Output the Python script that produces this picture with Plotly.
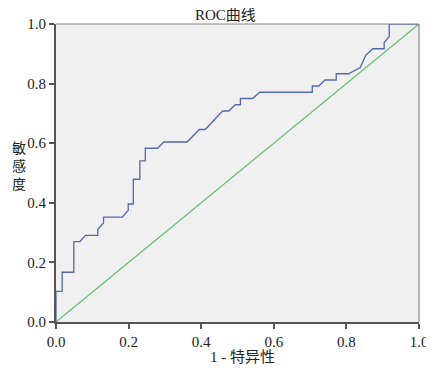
import plotly.graph_objects as go

# ROC curve points (1 - specificity, sensitivity)
fpr = [0, 0, 0.017, 0.017, 0.049, 0.049, 0.066, 0.081, 0.115, 0.115, 0.131, 0.131,
       0.183, 0.199, 0.199, 0.213, 0.213, 0.231, 0.231, 0.246, 0.246, 0.28, 0.297,
       0.361, 0.395, 0.411, 0.459, 0.476, 0.494, 0.508, 0.508, 0.542, 0.561, 0.706,
       0.706, 0.724, 0.741, 0.772, 0.772, 0.806, 0.838, 0.854, 0.873, 0.904, 0.904,
       0.918, 0.918, 1.0]
tpr = [0, 0.103, 0.103, 0.167, 0.167, 0.27, 0.27, 0.291, 0.291, 0.311, 0.332, 0.352,
       0.352, 0.375, 0.396, 0.396, 0.479, 0.479, 0.541, 0.541, 0.583, 0.583, 0.604,
       0.604, 0.646, 0.646, 0.708, 0.708, 0.729, 0.729, 0.75, 0.75, 0.771, 0.771,
       0.792, 0.792, 0.812, 0.812, 0.833, 0.833, 0.854, 0.896, 0.917, 0.917, 0.938,
       0.958, 1.0, 1.0]
ref_x = [0, 1]
ref_y = [0, 1]
tick_vals = [0.0, 0.2, 0.4, 0.6, 0.8, 1.0]
tick_text = ["0.0", "0.2", "0.4", "0.6", "0.8", "1.0"]
y_title = "敏<br>感<br>度"

serif = "Liberation Serif, Times New Roman, Noto Sans CJK SC, serif"
txt_font = dict(family=serif, size=15, color="#222222")

fig = go.Figure()
fig.add_trace(go.Scatter(x=ref_x, y=ref_y, mode="lines",
                         line=dict(color="#5dbf6b", width=1.2), hoverinfo="skip"))
fig.add_trace(go.Scatter(x=fpr, y=tpr, mode="lines",
                         line=dict(color="#5468b4", width=1.3)))

axis_common = dict(range=[0, 1], tickvals=tick_vals, ticktext=tick_text,
                   showgrid=False, zeroline=False, ticks="outside", ticklen=5,
                   tickwidth=1.5, tickcolor="#555555", showline=True,
                   linecolor="#555555", linewidth=2, automargin=False,
                   tickfont=txt_font)

annotations = [
    dict(text="ROC曲线", x=0.5, y=1, xref="paper", yref="paper",
         xshift=-12, yanchor="bottom", yshift=-1, showarrow=False, font=txt_font),
    dict(text="1 - 特异性", x=0.5, y=0, xref="paper", yref="paper",
         xshift=5, yanchor="top", yshift=-25, showarrow=False, font=txt_font),
    dict(text=y_title, x=0, y=0.5, xref="paper", yref="paper",
         xanchor="center", yanchor="middle", xshift=-37, yshift=7,
         showarrow=False, font=dict(family=serif, size=14, color="#222222")),
]

# page body has an 8px default margin, so the figure is sized to fit inside it
fig.update_layout(
    width=426, height=360,
    margin=dict(l=48, r=15, t=16, b=46, autoexpand=False),
    paper_bgcolor="white", plot_bgcolor="#f0f0f0",
    showlegend=False,
    xaxis=dict(**axis_common),
    yaxis=dict(**axis_common),
    shapes=[
        dict(type="line", xref="paper", yref="paper", x0=0, x1=1, y0=1, y1=1,
             line=dict(color="#888888", width=1.2)),
        dict(type="line", xref="paper", yref="paper", x0=1, x1=1, y0=0, y1=1,
             line=dict(color="#888888", width=1.2)),
    ],
    annotations=annotations,
)

fig.write_html("out.html")
